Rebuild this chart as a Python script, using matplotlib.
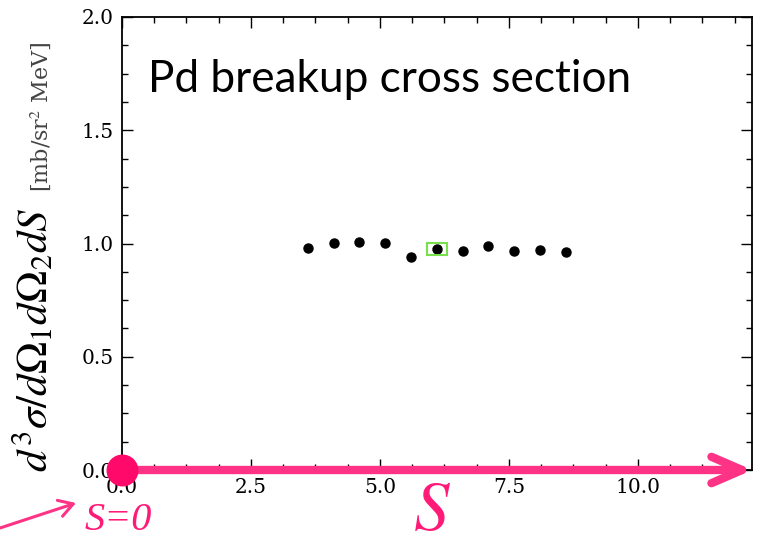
import matplotlib

matplotlib.use("Agg")
import matplotlib.pyplot as plt  # noqa: E402
from matplotlib.patches import FancyArrowPatch, Rectangle  # noqa: E402
from matplotlib.ticker import MultipleLocator  # noqa: E402

# dados
S_VALUES = [3.6, 4.1, 4.6, 5.1, 5.6, 6.1, 6.6, 7.1, 7.6, 8.1, 8.6]
CROSS_SECTION = [0.981, 1.003, 1.005, 1.001, 0.942, 0.975, 0.969, 0.991,
                 0.967, 0.970, 0.962]
HIGHLIGHT_S = 6.1
HIGHLIGHT_Y = 0.975
X_TICKS = [0, 2.5, 5, 7.5, 10]
X_TICK_LABELS = ["0.0", "2.5", "5.0", "7.5", "10.0"]

PINK = "#ff3385"
PINK_DOT = "#ff0a6a"
PINK_TEXT = "#ff1a78"
W, H = 759, 547

plt.rcParams["mathtext.fontset"] = "stix"

fig = plt.figure(figsize=(W / 100, H / 100), dpi=100)
ax = fig.add_axes([122 / W, 77 / H, 630 / W, 453 / H])

ax.plot(S_VALUES, CROSS_SECTION, "o", color="black", ms=6.5, zorder=3)
ax.add_patch(Rectangle((HIGHLIGHT_S - 0.19, HIGHLIGHT_Y - 0.025), 0.38, 0.052,
                       fill=False, edgecolor="#77e04a", linewidth=1.5,
                       zorder=4))

ax.set_xlim(0, 12.21)
ax.set_ylim(0, 2.0)
ax.xaxis.set_minor_locator(MultipleLocator(0.625))
ax.yaxis.set_major_locator(MultipleLocator(0.5))
ax.yaxis.set_minor_locator(MultipleLocator(0.125))
ax.tick_params(which="both", direction="in", top=True, right=True,
               labelsize=14.5, width=1.0)
ax.tick_params(which="major", length=8, pad=6)
ax.tick_params(which="minor", length=4)
ax.set_xticks(X_TICKS)
ax.set_xticklabels(X_TICK_LABELS)
for lbl in ax.get_xticklabels() + ax.get_yticklabels():
    lbl.set_family("DejaVu Serif")
for sp in ax.spines.values():
    sp.set_linewidth(1.3)

ax.text(26 / 630, (470 - 92) / 453, "Pd breakup cross section",
        transform=ax.transAxes, fontsize=31.8, family="Lato",
        ha="left", va="baseline")

# rótulo do eixo y em duas partes
fig.text(33 / W, 1 - 472 / H, r"$d^3\sigma/d\Omega_1 d\Omega_2 dS$",
         rotation=90, fontsize=31, ha="center", va="bottom")
fig.text(41 / W, 1 - 192 / H, r"[mb/sr$^2$ MeV]", rotation=90,
         fontsize=16, ha="center", va="bottom", family="DejaVu Serif",
         color="#444444")

# seta S e ponto S=0
arrow = FancyArrowPatch((0.0, 0.0), (12.22, 0.0),
                        arrowstyle="->,head_length=2.2,head_width=0.95",
                        color=PINK, linewidth=6, mutation_scale=10,
                        shrinkA=0, shrinkB=0, capstyle="round",
                        joinstyle="round", clip_on=False, zorder=5)
ax.add_patch(arrow)
ax.plot([0], [0], "o", color=PINK_DOT, ms=22, clip_on=False, zorder=6)

fig.patches.append(FancyArrowPatch((0, 1 - 528 / H), (76 / W, 1 - 503 / H),
                                   transform=fig.transFigure, figure=fig,
                                   arrowstyle="->,head_length=0.5,head_width=0.3",
                                   mutation_scale=20, color=PINK,
                                   linewidth=2.2, shrinkA=0, shrinkB=0))
fig.text(118 / W, 1 - 530 / H, "S=0", fontsize=29, color=PINK_TEXT,
         family="Liberation Serif", style="italic", ha="center",
         va="baseline")
fig.text(432 / W, 1 - 545 / H, r"$S$", fontsize=51, color=PINK_TEXT,
         ha="center", va="bottom")

fig.savefig("out.png", dpi=100)
